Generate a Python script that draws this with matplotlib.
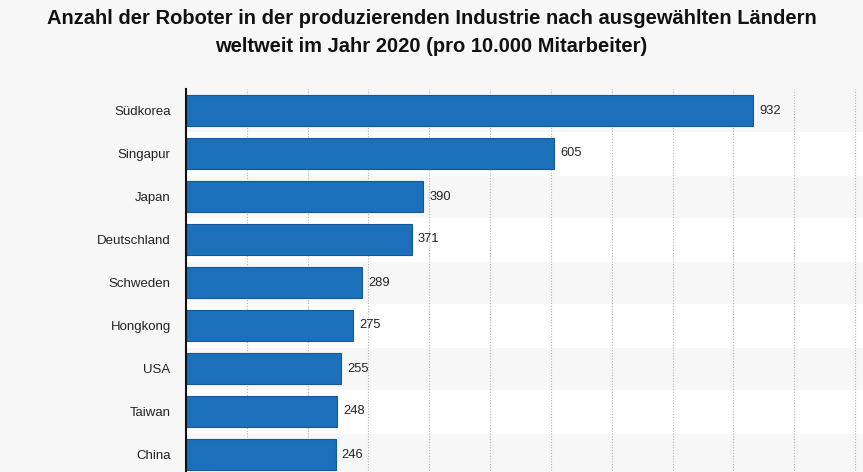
import matplotlib.pyplot as plt
import numpy as np

plt.rcParams['font.family'] = ['Liberation Sans', 'DejaVu Sans']

# Daten: Roboter pro 10.000 Mitarbeiter (2020)
laender = ['Südkorea', 'Singapur', 'Japan', 'Deutschland', 'Schweden',
           'Hongkong', 'USA', 'Taiwan', 'China']
werte = [932, 605, 390, 371, 289, 275, 255, 248, 246]

bg = '#f7f7f7'
bar_color = '#1b6fbb'

fig = plt.figure(figsize=(8.63, 4.72), dpi=100, facecolor=bg)
ax = fig.add_axes([186 / 863, -4 / 472, 1 - 186 / 863, 387 / 472])
ax.set_facecolor(bg)

y = np.arange(len(laender))

# abwechselnde Zeilenstreifen
for i in y:
    if i % 2 == 1:
        ax.axhspan(i - 0.5, i + 0.5, color='white', zorder=0)

ax.barh(y, werte, height=0.7, color=bar_color, edgecolor='#16599a',
        linewidth=0.8, zorder=3)

for yi, v in zip(y, werte):
    ax.text(v + 10, yi, str(v), va='center', ha='left', fontsize=9.3,
            color='#222222', zorder=4)

ax.set_xlim(0, 1113)
ax.set_ylim(len(laender) - 0.5, -0.5)
ax.set_yticks(y)
ax.set_yticklabels(laender, fontsize=9.5, color='#222222')
ax.set_xticks(np.arange(100, 1200, 100))
ax.tick_params(axis='x', length=0, labelbottom=False)
ax.tick_params(axis='y', length=0, pad=11)
ax.grid(axis='x', linestyle=(0, (1, 1.5)), color='#b5b5b5', linewidth=0.8,
        zorder=1)

for s in ['top', 'right', 'bottom']:
    ax.spines[s].set_visible(False)
ax.spines['left'].set_linewidth(1.5)
ax.spines['left'].set_color('#111111')
ax.spines['left'].set_zorder(5)

fig.text(0.5, 1 - 18 / 472,
         'Anzahl der Roboter in der produzierenden Industrie nach ausgewählten Ländern',
         ha='center', va='center', fontsize=14.5, fontweight='bold',
         color='#111111')
fig.text(0.5, 1 - 46 / 472,
         'weltweit im Jahr 2020 (pro 10.000 Mitarbeiter)',
         ha='center', va='center', fontsize=14.5, fontweight='bold',
         color='#111111')

fig.savefig('out.png', dpi=100, facecolor=bg)
